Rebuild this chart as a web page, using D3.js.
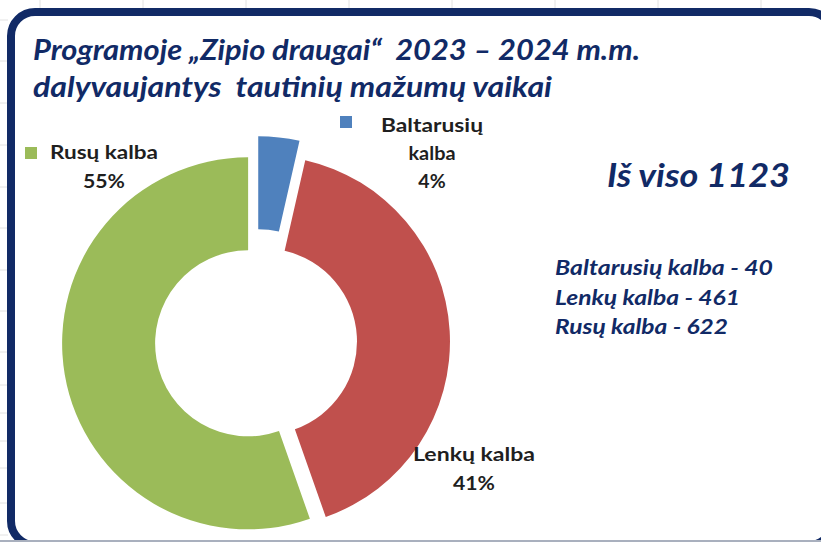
<!DOCTYPE html>
<html>
<head>
<meta charset="utf-8">
<script src="https://cdn.jsdelivr.net/npm/d3@7"></script>
<style>
  html, body { margin: 0; padding: 0; background: #fff; }
  svg text { white-space: pre; }
</style>
</head>
<body>
<svg id="chart" width="821" height="542"></svg>
<script>
// Donut: children in "Zipio draugai" programme by minority language.
const categories = ["Baltarusių kalba", "Lenkų kalba", "Rusų kalba"];
const counts = [40, 461, 622];
const titleLines = ["Programoje „Zipio draugai“  2023 – 2024 m.m.", "dalyvaujantys  tautinių mažumų vaikai"];
const totalLabel = "Iš viso";

const W = 821, H = 542;
const NAVY = "#112a66";
const TEXT = "#1f1f1f";
const colors = d3.scaleOrdinal().domain(categories).range(["#4f81bd", "#c0504d", "#9bbb59"]);

const svg = d3.select("#chart");

// faint spreadsheet grid peeking out behind the frame
const sheetCols = [40, 143, 246, 349, 452, 555, 658, 761];
const sheetRows = [20, 61, 103, 145, 187, 228, 270, 311, 352, 385, 413, 441, 468, 503, 535];
svg.append("g").selectAll("line").data(sheetCols).join("line")
  .attr("x1", d => d).attr("x2", d => d).attr("y1", 0).attr("y2", 10)
  .attr("stroke", "#e2e2e2");
svg.append("g").selectAll("line").data(sheetRows).join("line")
  .attr("x1", 0).attr("x2", 8).attr("y1", d => d).attr("y2", d => d)
  .attr("stroke", "#e2e2e2");

// rounded navy frame (runs past the right/bottom edge)
svg.append("rect")
  .attr("x", 11).attr("y", 12)
  .attr("width", 822).attr("height", 533)
  .attr("rx", 24)
  .attr("fill", "#fff")
  .attr("stroke", NAVY).attr("stroke-width", 8);

svg.append("line")
  .attr("x1", 0).attr("x2", W).attr("y1", 541).attr("y2", 541)
  .attr("stroke", "#a9b0be").attr("stroke-width", 2);

// title
const title = svg.append("g")
  .attr("font-family", "Lato, 'Open Sans', sans-serif")
  .attr("font-weight", "bold").attr("font-style", "italic")
  .attr("fill", NAVY);
title.append("text").attr("x", 33).attr("y", 60).attr("font-size", 28)
  .attr("textLength", 607).attr("lengthAdjust", "spacingAndGlyphs")
  .text(titleLines[0]);
title.append("text").attr("x", 33).attr("y", 97).attr("font-size", 28)
  .attr("textLength", 519).attr("lengthAdjust", "spacingAndGlyphs")
  .text(titleLines[1]);

// donut
const cx = 256, cy = 342, R = 186, r = 93;
const explode = [20, 8, 8];
const pie = d3.pie().sort(null).value(d => d)(counts);
const arc = d3.arc().innerRadius(r).outerRadius(R);

const donut = svg.append("g").attr("transform", `translate(${cx},${cy})`);
donut.selectAll("path").data(pie).join("path")
  .attr("d", arc)
  .attr("fill", (d, i) => colors(categories[i]))
  .attr("transform", (d, i) => {
    const a = (d.startAngle + d.endAngle) / 2;
    return `translate(${Math.sin(a) * explode[i]},${-Math.cos(a) * explode[i]})`;
  });

// data labels
const total = d3.sum(counts);
const pct = d3.format(".0%");
const lab = svg.append("g")
  .attr("font-family", "Lato, 'Open Sans', sans-serif")
  .attr("font-weight", "bold").attr("font-size", 19.5).attr("fill", TEXT);

function label(i, lines, x, y0, step, keyX, keyY, widths) {
  const t = lab.append("text").attr("text-anchor", "middle");
  lines.forEach((s, k) => {
    const ts = t.append("tspan").attr("x", x).attr("y", y0 + k * step).text(s);
    if (widths && widths[k]) ts.attr("textLength", widths[k]).attr("lengthAdjust", "spacingAndGlyphs");
  });
  if (keyX != null) {
    lab.append("rect").attr("x", keyX).attr("y", keyY).attr("width", 12).attr("height", 12)
      .attr("fill", colors(categories[i]));
  }
}

const share = counts.map(v => pct(v / total));
// Baltarusių
label(0, ["Baltarusių", "kalba", share[0]], 432, 132, 28, 340, 116, [102, 47, 0]);
// Lenkų
label(1, [categories[1], share[1]], 474, 461, 29, null, null, [122, 42]);
// Rusų
label(2, [categories[2]], 104, 159, 0, 25, 147, [108]);
label(2, [share[2]], 104, 188, 0, null, null, [42]);

// totals block
const info = svg.append("g")
  .attr("font-family", "Lato, 'Open Sans', sans-serif")
  .attr("font-weight", "bold").attr("font-style", "italic")
  .attr("fill", NAVY);
info.append("text").attr("x", 607).attr("y", 187).attr("font-size", 32)
  .attr("textLength", 183).attr("lengthAdjust", "spacingAndGlyphs")
  .text(`${totalLabel} ${total}`);
const listWidths = [218, 185, 173];
info.selectAll("text.row").data(categories).join("text")
  .attr("class", "row")
  .attr("x", 555)
  .attr("y", (d, i) => 275 + i * 29.5)
  .attr("font-size", 20)
  .attr("textLength", (d, i) => listWidths[i]).attr("lengthAdjust", "spacingAndGlyphs")
  .text((d, i) => `${d} - ${counts[i]}`);
</script>
</body>
</html>
